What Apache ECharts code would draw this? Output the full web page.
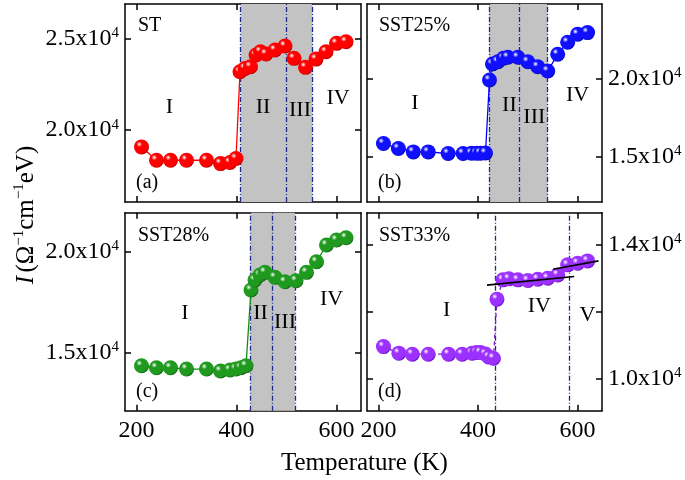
<!DOCTYPE html>
<html>
<head>
<meta charset="utf-8">
<script src="https://cdn.jsdelivr.net/npm/echarts@6/dist/echarts.min.js"></script>
<style>html,body{margin:0;padding:0;background:#fff}#c{width:685px;height:480px}</style>
</head>
<body>
<div id="c"></div>
<script>
// ---------- data ----------
const xTicks = [200, 400, 600];
const xRange = [177, 649];

const tempA = [210,240,268,300,340,368,387,399,407,417,428,439,448,459,477,497,515,538,559,579,600,619];
const valA  = [19090,18364,18364,18364,18364,18182,18240,18455,23179,23364,23452,24090,24270,24144,24362,24580,23910,23420,23870,24270,24727,24815];

const tempB = [210,240,270,300,340,370,387,397,405,415,423,429,440,451,460,480,500,520,540,560,580,600,620];
const valB  = [15855,15536,15319,15319,15217,15217,15230,15230,15240,15250,19898,20919,21066,21283,21347,21347,21066,20747,20472,21538,22304,22815,22920];

const tempC = [210,240,268,300,340,368,387,399,409,419,429,437,447,457,477,497,519,540,560,580,600,619];
const valC  = [14334,14235,14235,14170,14170,14070,14120,14170,14235,14334,18097,18594,18842,18976,18728,18509,18560,18976,19503,20333,20582,20696];

const tempD = [210,241,268,300,341,368,388,397,405,415,422,431,438,450,462,480,500,520,540,560,580,600,620];
const valD  = [10964,10767,10737,10737,10737,10737,10766,10786,10786,10740,10650,10617,12379,12955,12985,12955,12935,12975,13005,13104,13403,13453,13522];

const fitD1 = [[418,12797],[593,13054]];
const fitD2 = [[551,13274],[642,13522]];

const shadeA = [408, 552]; const linesA = [408, 500, 552];
const shadeB = [422, 540]; const linesB = [422, 483, 540];
const shadeC = [428, 517]; const linesC = [428, 472, 517];
const shadeD = null;       const linesD = [435, 583];

const romanA = [[266,21270,'I'],[453,21270,'II'],[527,21090,'III'],[603,21745,'IV']];
const romanB = [[273,18410,'I'],[463,18300,'II'],[513,17554,'III'],[600,18940,'IV']];
const romanC = [[297,16938,'I'],[448,16938,'II'],[497,16521,'III'],[590,17634,'IV']];
const romanD = [[337,12060,'I'],[523,12158,'IV'],[620,11910,'V']];

const yRangeA = [16090, 26870]; const yTicksA = [20000, 25000]; const yLabelsA = [20000, 25000];
const yRangeB = [12126, 24744]; const yTicksB = [15000, 20000]; const yLabelsB = [15000, 20000];
const yRangeC = [12100, 21940]; const yTicksC = [15000, 20000]; const yLabelsC = [15000, 20000];
const yRangeD = [9050, 14960];  const yTicksD = [10000, 12000, 14000]; const yLabelsD = [10000, 14000];

const sampleNames = ['ST', 'SST25%', 'SST28%', 'SST33%'];
const panelTags = ['(a)', '(b)', '(c)', '(d)'];

// ---------- styling / build ----------
const FONT = 'Liberation Serif';
const colors = [
  {base:'#ff0000', dark:'#9a0000', line:'#ff0000'},
  {base:'#1010ff', dark:'#00008a', line:'#0000ff'},
  {base:'#1f9a1f', dark:'#0a4f0a', line:'#138a13'},
  {base:'#9b30ff', dark:'#5a00a8', line:'#7a1fc8'}
];
const grids = [
  {left:125, top:4, width:236, height:198},
  {left:367, top:4, width:235, height:198},
  {left:125, top:212.7, width:236, height:198},
  {left:367, top:212.7, width:235, height:198}
];
const panels = [
  {t:tempA, v:valA, shade:shadeA, lines:linesA, roman:romanA, yr:yRangeA, yt:yTicksA, yl:yLabelsA},
  {t:tempB, v:valB, shade:shadeB, lines:linesB, roman:romanB, yr:yRangeB, yt:yTicksB, yl:yLabelsB},
  {t:tempC, v:valC, shade:shadeC, lines:linesC, roman:romanC, yr:yRangeC, yt:yTicksC, yl:yLabelsC},
  {t:tempD, v:valD, shade:shadeD, lines:linesD, roman:romanD, yr:yRangeD, yt:yTicksD, yl:yLabelsD}
];

const axisLineStyle = {show:true, lineStyle:{color:'#000', width:1.5}};
const supRich = {
  b:{fontFamily:FONT, fontSize:24, color:'#000', lineHeight:26},
  sup:{fontFamily:FONT, fontSize:15, color:'#000', verticalAlign:'top', lineHeight:26, padding:[0,0,13,0]}
};
function yFmt(v){ return '{b|' + (v/10000).toFixed(1) + 'x10}{sup|4}'; }

const xAxis = [], yAxis = [], series = [];
panels.forEach((p, i) => {
  const bottomRow = i >= 2;
  const rightCol = i % 2 === 1;
  xAxis.push({
    type:'value', gridIndex:i, min:xRange[0], max:xRange[1], position:'bottom',
    axisLine:axisLineStyle, splitLine:{show:false},
    axisTick:{show:true, inside:true, length:6, customValues:xTicks, lineStyle:{color:'#000', width:1.5}},
    axisLabel:{show:bottomRow, customValues:xTicks, fontFamily:FONT, fontSize:24, color:'#000', margin:8}
  });
  yAxis.push({
    type:'value', gridIndex:i, min:p.yr[0], max:p.yr[1], position: rightCol ? 'right' : 'left',
    axisLine:axisLineStyle, splitLine:{show:false},
    axisTick:{show:true, inside:true, length:6, customValues:p.yt, lineStyle:{color:'#000', width:1.5}},
    axisLabel:{show:true, customValues:p.yl, formatter:yFmt, rich:supRich, margin:6}
  });
});
panels.forEach((p, i) => {
  const rightCol = i % 2 === 1;
  xAxis.push({
    type:'value', gridIndex:i, min:xRange[0], max:xRange[1], position:'top',
    axisLine:axisLineStyle, splitLine:{show:false},
    axisTick:{show:true, inside:true, length:6, customValues:xTicks, lineStyle:{color:'#000', width:1.5}},
    axisLabel:{show:false}
  });
  yAxis.push({
    type:'value', gridIndex:i, min:p.yr[0], max:p.yr[1], position: rightCol ? 'left' : 'right',
    axisLine:axisLineStyle, splitLine:{show:false},
    axisTick:{show:true, inside:true, length:6, customValues:p.yt, lineStyle:{color:'#000', width:1.5}},
    axisLabel:{show:false}
  });
});

panels.forEach((p, i) => {
  const c = colors[i];
  const bg = {
    type:'line', xAxisIndex:i, yAxisIndex:i, z:1, silent:true, data:[],
    markLine:{
      silent:true, symbol:'none', label:{show:false},
      lineStyle:{color:'#1a2a8c', width:1.3, type:[5,2,1,2]},
      data:p.lines.map(x => ({xAxis:x}))
    }
  };
  if (p.shade) {
    bg.markArea = {silent:true, itemStyle:{color:'#c3c3c3', opacity:1}, data:[[{xAxis:p.shade[0]}, {xAxis:p.shade[1]}]]};
  }
  series.push(bg);
  series.push({
    type:'line', xAxisIndex:i, yAxisIndex:i, z:5,
    data:p.t.map((t, k) => [t, p.v[k]]),
    symbol:'circle', symbolSize:15,
    lineStyle:{color:c.line, width:1.3, type: i === 3 ? [4,3] : 'solid'},
    itemStyle:{
      color:{type:'radial', x:0.35, y:0.32, r:0.75, colorStops:[
        {offset:0, color:'#ffffff'}, {offset:0.25, color:c.base}, {offset:0.8, color:c.base}, {offset:1, color:c.dark}
      ]},
      borderWidth:0
    },
    animation:false
  });
});
[fitD1, fitD2].forEach(f => series.push({
  type:'line', xAxisIndex:3, yAxisIndex:3, z:6, data:f, symbol:'none',
  lineStyle:{color:'#000', width:1.6}, animation:false
}));

const graphic = [];
const namePos = [[138,27],[379,27],[138,237],[379,237]];
const tagPos = [[136,184],[378,184],[136,393],[378,393]];
sampleNames.forEach((s, i) => {
  graphic.push({type:'text', left:namePos[i][0], top:namePos[i][1]-11,
    style:{text:s, font:'20px "Liberation Serif"', fill:'#000'}});
  graphic.push({type:'text', left:tagPos[i][0], top:tagPos[i][1]-11,
    style:{text:panelTags[i], font:'20px "Liberation Serif"', fill:'#000'}});
});
graphic.push({type:'text', left:281, top:451,
  style:{text:'Temperature (K)', font:'25px "Liberation Serif"', fill:'#000'}});
graphic.push({type:'text', x:26, y:215, rotation:Math.PI/2,
  style:{text:'{i|I} {n|(Ω}{s|−1}{n|cm}{s|−1}{n|eV)}', align:'center', verticalAlign:'middle',
    rich:{
      i:{fontFamily:FONT, fontStyle:'italic', fontSize:25, fill:'#000', lineHeight:28},
      n:{fontFamily:FONT, fontSize:25, fill:'#000', lineHeight:28},
      s:{fontFamily:FONT, fontSize:15, fill:'#000', verticalAlign:'top', lineHeight:28, padding:[0,0,14,0]}
    }}});

const chart = echarts.init(document.getElementById('c'), null, {renderer:'canvas'});
chart.setOption({
  animation:false,
  grid:grids.map(g => Object.assign({containLabel:false}, g)),
  xAxis, yAxis, series, graphic
});

// region labels (I, II, ...) placed at their data coordinates through the axes
const romanGraphics = [];
panels.forEach((p, i) => {
  p.roman.forEach(r => {
    const pt = chart.convertToPixel({xAxisIndex:i, yAxisIndex:i}, [r[0], r[1]]);
    romanGraphics.push({type:'text', x:pt[0], y:pt[1], z:10,
      style:{text:r[2], font:'22px "Liberation Serif"', fill:'#000', align:'center', verticalAlign:'middle'}});
  });
});
chart.setOption({graphic: graphic.concat(romanGraphics)});
</script>
</body>
</html>
